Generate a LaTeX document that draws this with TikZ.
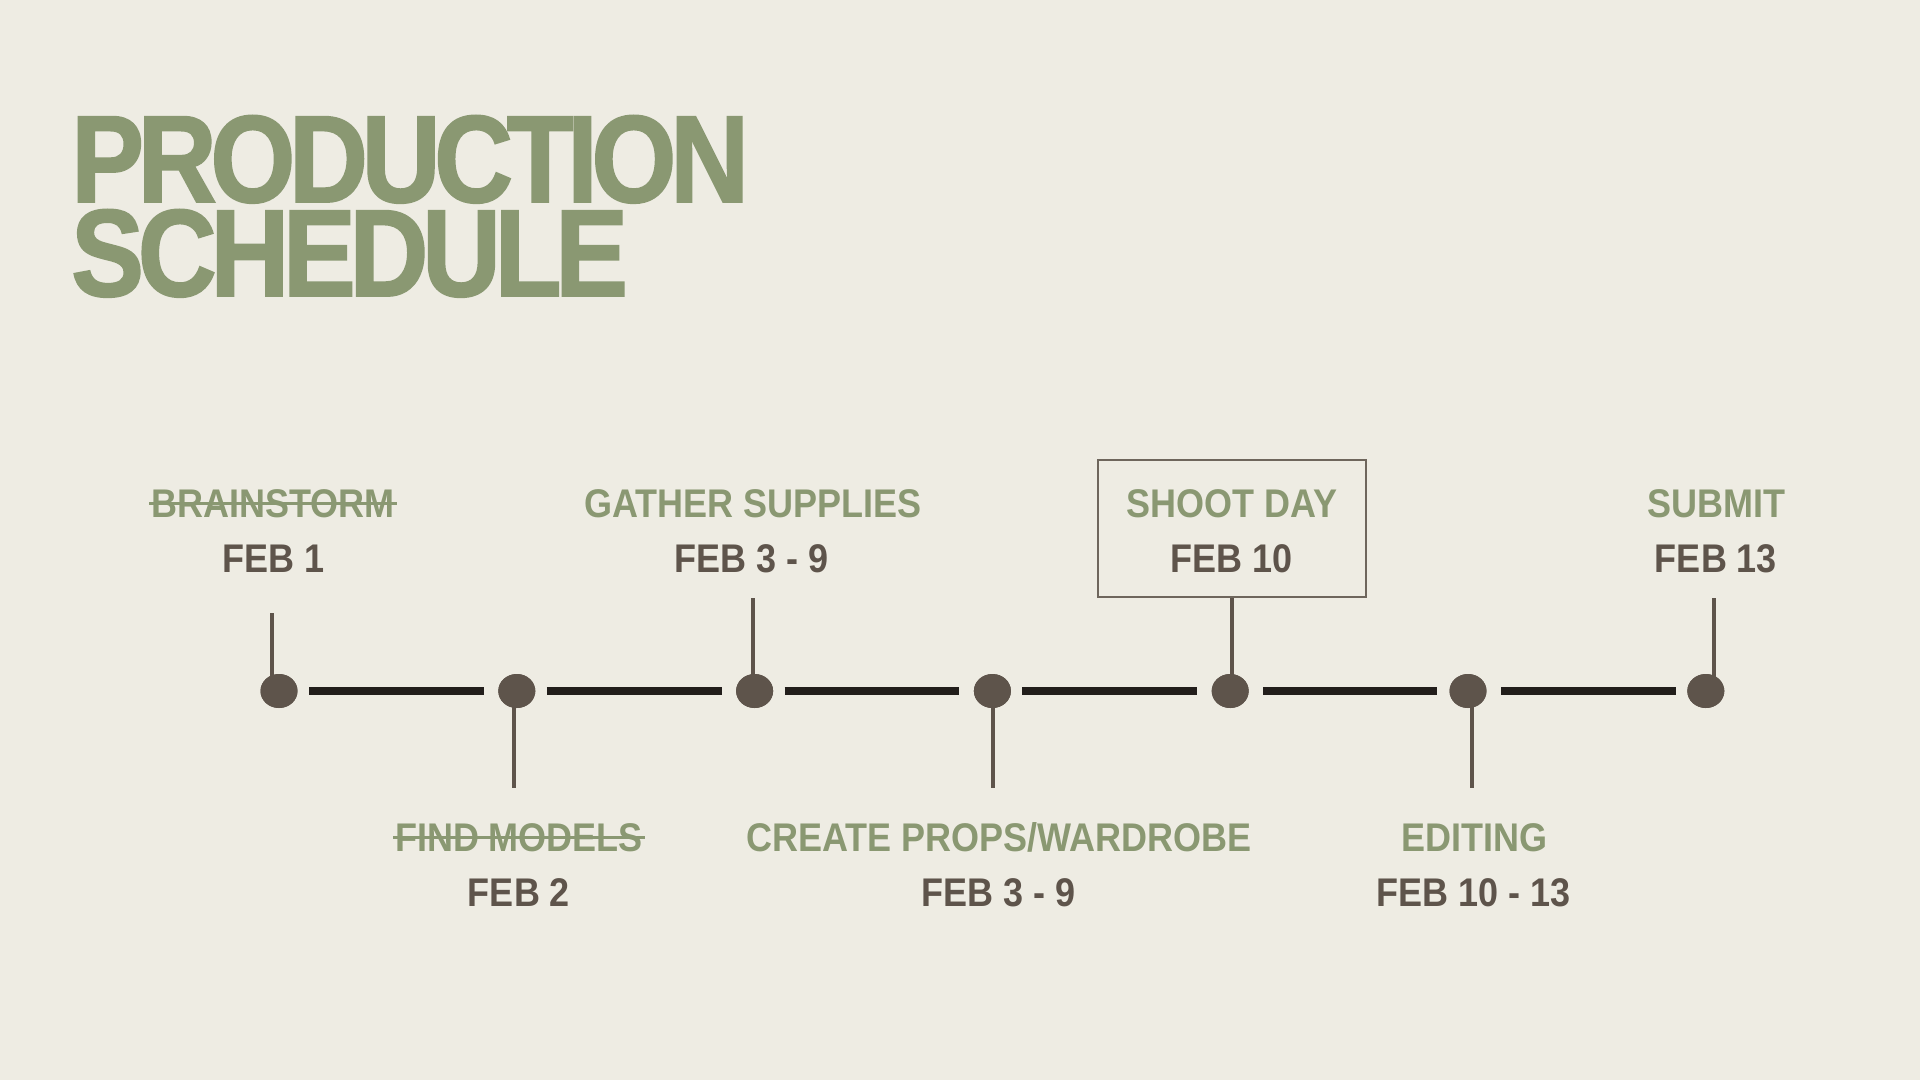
\documentclass[tikz,border=0pt]{standalone}
\usepackage{fontspec}
\usetikzlibrary{shapes.geometric}
\newfontfamily\titlefont[FakeStretch=0.88,LetterSpace=-5,FakeBold=1.5]{Liberation Sans Bold}
\newfontfamily\labfont[FakeStretch=0.9]{Liberation Sans Bold}
\definecolor{bg}{HTML}{EEECE3}
\definecolor{sage}{HTML}{8A9872}
\definecolor{cocoa}{HTML}{5E544B}
\definecolor{ink}{HTML}{221E1B}
\definecolor{boxline}{HTML}{6E665C}
\tikzset{
  titletxt/.style={anchor=base west, inner sep=0pt, text=sage, font=\titlefont\fontsize{124}{124}\selectfont},
  lab/.style={anchor=base, inner sep=0pt, outer sep=0pt, text=sage, font=\labfont\fontsize{40}{40}\selectfont},
  datetxt/.style={anchor=base, inner sep=0pt, outer sep=0pt, text=cocoa, font=\labfont\fontsize{40}{40}\selectfont},
  dot/.style={ellipse, minimum width=37pt, minimum height=34pt, inner sep=0pt, outer sep=0pt, fill=cocoa},
  bar/.style={draw=ink, line width=8pt},
  stem/.style={draw=cocoa, line width=3.5pt},
  strike/.style={draw=sage, line width=3pt, shorten <=-2pt, shorten >=-2pt},
  hilite/.style={draw=boxline, line width=1.5pt, rectangle, inner sep=0pt, minimum width=268pt, minimum height=137pt}
}
\begin{document}
\begin{tikzpicture}[x=1pt,y=-1pt]
\useasboundingbox[fill=bg] (0,0) rectangle (1920,1080);
% title
\node[titletxt] (t1) at (71,202) {PRODUCTION};
\node[titletxt] (t2) at (71,296) {SCHEDULE};
% highlight box
\node[hilite] (shootbox) at (1232,528.5) {};
% stems (free ends)
\coordinate (s1) at (272,613);
\coordinate (s3) at (753,598);
\coordinate (s7) at (1714,598);
\coordinate (s2) at (514,788);
\coordinate (s4) at (993,788);
\coordinate (s6) at (1472,788);
% dots
\node[dot] (d1) at (279,691) {};
\node[dot] (d2) at (516.8,691) {};
\node[dot] (d3) at (754.6,691) {};
\node[dot] (d4) at (992.4,691) {};
\node[dot] (d5) at (1230.2,691) {};
\node[dot] (d6) at (1468,691) {};
\node[dot] (d7) at (1705.8,691) {};
% stems
\draw[stem] (d1.center -| s1) -- (s1);
\draw[stem] (d3.center -| s3) -- (s3);
\draw[stem] (d5.center -| shootbox.south) -- (shootbox.south);
\draw[stem] (d7.center -| s7) -- (s7);
\draw[stem] (d2.center -| s2) -- (s2);
\draw[stem] (d4.center -| s4) -- (s4);
\draw[stem] (d6.center -| s6) -- (s6);
% redraw dots over stems
\foreach \n in {d1,d2,d3,d4,d5,d6,d7}{\fill[cocoa] (\n.center) ellipse [x radius=18.5pt, y radius=17pt];}
% bars
\draw[bar] ([xshift=30pt]d1.center) -- ([xshift=-33pt]d2.center);
\draw[bar] ([xshift=30pt]d2.center) -- ([xshift=-33pt]d3.center);
\draw[bar] ([xshift=30pt]d3.center) -- ([xshift=-33pt]d4.center);
\draw[bar] ([xshift=30pt]d4.center) -- ([xshift=-33pt]d5.center);
\draw[bar] ([xshift=33pt]d5.center) -- ([xshift=-31pt]d6.center);
\draw[bar] ([xshift=33pt]d6.center) -- ([xshift=-30pt]d7.center);
% upper labels
\node[lab] (l1) at (273,517) {BRAINSTORM};
\node[datetxt] (f1) at (274,572) {FEB 1};
\node[lab] (l3) at (753,517) {GATHER SUPPLIES};
\node[datetxt] (f3) at (752,572) {FEB 3 - 9};
\node[lab] (l5) at (1232,517) {SHOOT DAY};
\node[datetxt] (f5) at (1232,572) {FEB 10};
\node[lab] (l7) at (1716,517) {SUBMIT};
\node[datetxt] (f7) at (1716,572) {FEB 13};
% lower labels
\node[lab] (l2) at (519,851) {FIND MODELS};
\node[datetxt] (f2) at (519,906) {FEB 2};
\node[lab] (l4) at (999,851) {CREATE PROPS/WARDROBE};
\node[datetxt] (f4) at (999,906) {FEB 3 - 9};
\node[lab] (l6) at (1474,851) {EDITING};
\node[datetxt] (f6) at (1474,906) {FEB 10 - 13};
% strikethroughs
\draw[strike] (l1.west) -- (l1.east);
\draw[strike] (l2.west) -- (l2.east);
\end{tikzpicture}
\end{document}
